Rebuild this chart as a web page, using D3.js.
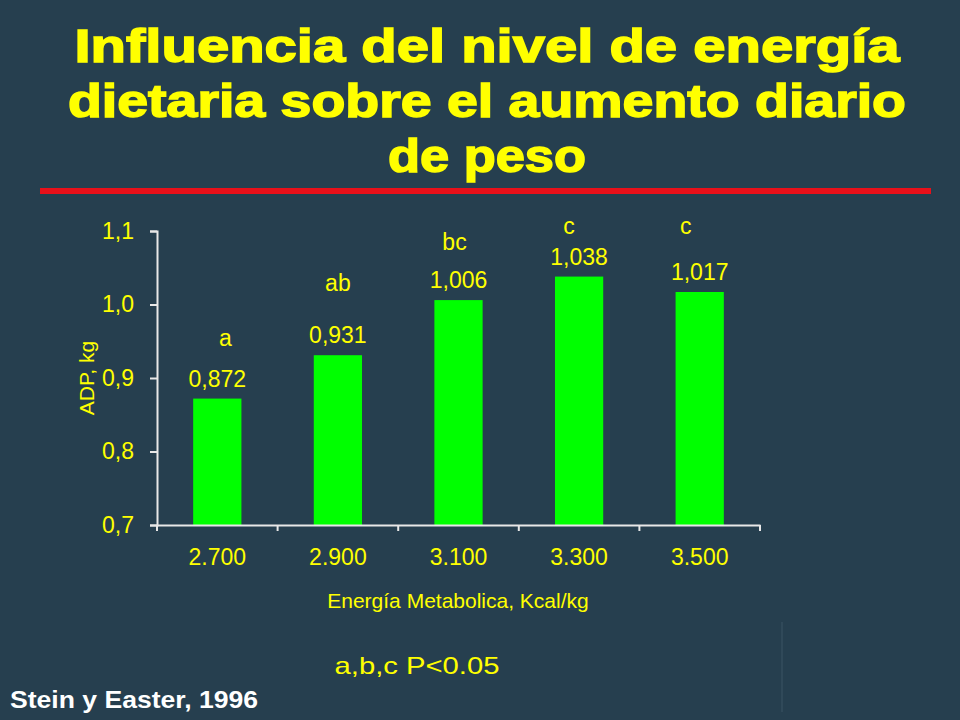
<!DOCTYPE html>
<html>
<head>
<meta charset="utf-8">
<script src="https://cdn.jsdelivr.net/npm/d3@7"></script>
<style>
  body { margin: 0; background: #263f4f; }
  svg { display: block; font-family: "Liberation Sans", Arial, sans-serif; }
</style>
</head>
<body>
<svg id="chart" width="960" height="720"></svg>
<script>
  var categories = ['2.700', '2.900', '3.100', '3.300', '3.500'],
      values = [0.872, 0.931, 1.006, 1.038, 1.017],
      valueLabels = ['0,872', '0,931', '1,006', '1,038', '1,017'],
      letters = ['a', 'ab', 'bc', 'c', 'c'],
      letterLevels = [0.954, 1.029, 1.085, 1.107, 1.107],
      yTicks = [0.7, 0.8, 0.9, 1.0, 1.1];

  var svg = d3.select('#chart'),
      yellow = '#ffff00',
      plotLeft = 157, plotRight = 760, plotTop = 231, plotBottom = 525;

  // title
  var title = ['Influencia del nivel de energía', 'dietaria sobre el aumento diario', 'de peso'],
      titleWidths = [825, 838, 198];
  svg.selectAll('.title').data(title).enter().append('text')
    .attr('x', 487).attr('y', function(d, i) { return 62 + i * 55; })
    .attr('text-anchor', 'middle').attr('fill', yellow)
    .attr('stroke', yellow).attr('stroke-width', 1.5)
    .attr('font-size', 46).attr('font-weight', 'bold')
    .attr('textLength', function(d, i) { return titleWidths[i]; })
    .attr('lengthAdjust', 'spacingAndGlyphs')
    .text(function(d) { return d; });

  svg.append('rect').attr('x', 40).attr('y', 188).attr('width', 891).attr('height', 6).attr('fill', '#e8101a');

  var x = d3.scaleBand().domain(categories).range([plotLeft, plotRight]).paddingInner(0.6).paddingOuter(0.3);
  var xb = d3.scaleBand().domain(categories).range([plotLeft, plotRight]);
  var y = d3.scaleLinear().domain([0.7, 1.1]).range([plotBottom, plotTop]);

  svg.selectAll('.bar').data(values).enter().append('rect')
    .attr('x', function(d, i) { return x(categories[i]); })
    .attr('width', x.bandwidth())
    .attr('y', function(d) { return y(d); })
    .attr('height', function(d) { return plotBottom - y(d); })
    .attr('fill', '#00ff00');

  svg.selectAll('.val').data(values).enter().append('text')
    .attr('x', function(d, i) { return x(categories[i]) + x.bandwidth() / 2; })
    .attr('y', function(d) { return y(d) - 12; })
    .attr('text-anchor', 'middle').attr('fill', yellow).attr('font-size', 23)
    .text(function(d, i) { return valueLabels[i]; });

  svg.selectAll('.letter').data(letterLevels).enter().append('text')
    .attr('x', function(d, i) { return x(categories[i]) + x.bandwidth() / 2 + [8, 0, -4, -10, -14][i]; })
    .attr('y', function(d) { return y(d) + 8; })
    .attr('text-anchor', 'middle').attr('fill', yellow).attr('font-size', 23)
    .text(function(d, i) { return letters[i]; });

  // y axis
  var yAxis = svg.append('g').attr('transform', 'translate(' + plotLeft + ',0)')
    .call(d3.axisLeft(y).tickValues(yTicks).tickSize(7).tickPadding(16)
      .tickFormat(function(d) { return d3.format('.1f')(d).replace('.', ','); }));
  yAxis.selectAll('path, line').attr('stroke', '#e8e8e8').attr('stroke-width', 2);
  yAxis.selectAll('text').attr('fill', yellow).attr('font-size', 23).attr('font-family', 'Liberation Sans, Arial');

  // x axis
  var xAxis = svg.append('g').attr('transform', 'translate(0,' + plotBottom + ')')
    .call(d3.axisBottom(xb).tickSize(0).tickPadding(24));
  xAxis.select('.domain').attr('stroke', '#e8e8e8').attr('stroke-width', 2);
  xAxis.selectAll('text').attr('fill', yellow).attr('font-size', 23).attr('font-family', 'Liberation Sans, Arial');
  xAxis.selectAll('.sep').data(categories.concat(['end'])).enter().append('line')
    .attr('x1', function(d, i) { return plotLeft + i * xb.bandwidth(); })
    .attr('x2', function(d, i) { return plotLeft + i * xb.bandwidth(); })
    .attr('y1', 0).attr('y2', 6).attr('stroke', '#e8e8e8').attr('stroke-width', 2);

  svg.append('text').attr('x', 458).attr('y', 608).attr('text-anchor', 'middle')
    .attr('fill', yellow).attr('font-size', 21).text('Energía Metabolica, Kcal/kg');

  svg.append('text').attr('transform', 'translate(94,378) rotate(-90)').attr('text-anchor', 'middle')
    .attr('fill', yellow).attr('font-size', 21).text('ADP, kg');

  svg.append('text').attr('x', 417).attr('y', 674).attr('text-anchor', 'middle')
    .attr('fill', yellow).attr('font-size', 24)
    .attr('textLength', 165).attr('lengthAdjust', 'spacingAndGlyphs').text('a,b,c P<0.05');

  svg.append('text').attr('x', 10).attr('y', 708).attr('fill', '#ffffff')
    .attr('font-size', 24).attr('font-weight', 'bold')
    .attr('textLength', 248).attr('lengthAdjust', 'spacingAndGlyphs').text('Stein y Easter, 1996');

  svg.append('line').attr('x1', 782).attr('x2', 782).attr('y1', 622).attr('y2', 712)
    .attr('stroke', '#3b5565').attr('stroke-width', 1);
</script>
</body>
</html>
